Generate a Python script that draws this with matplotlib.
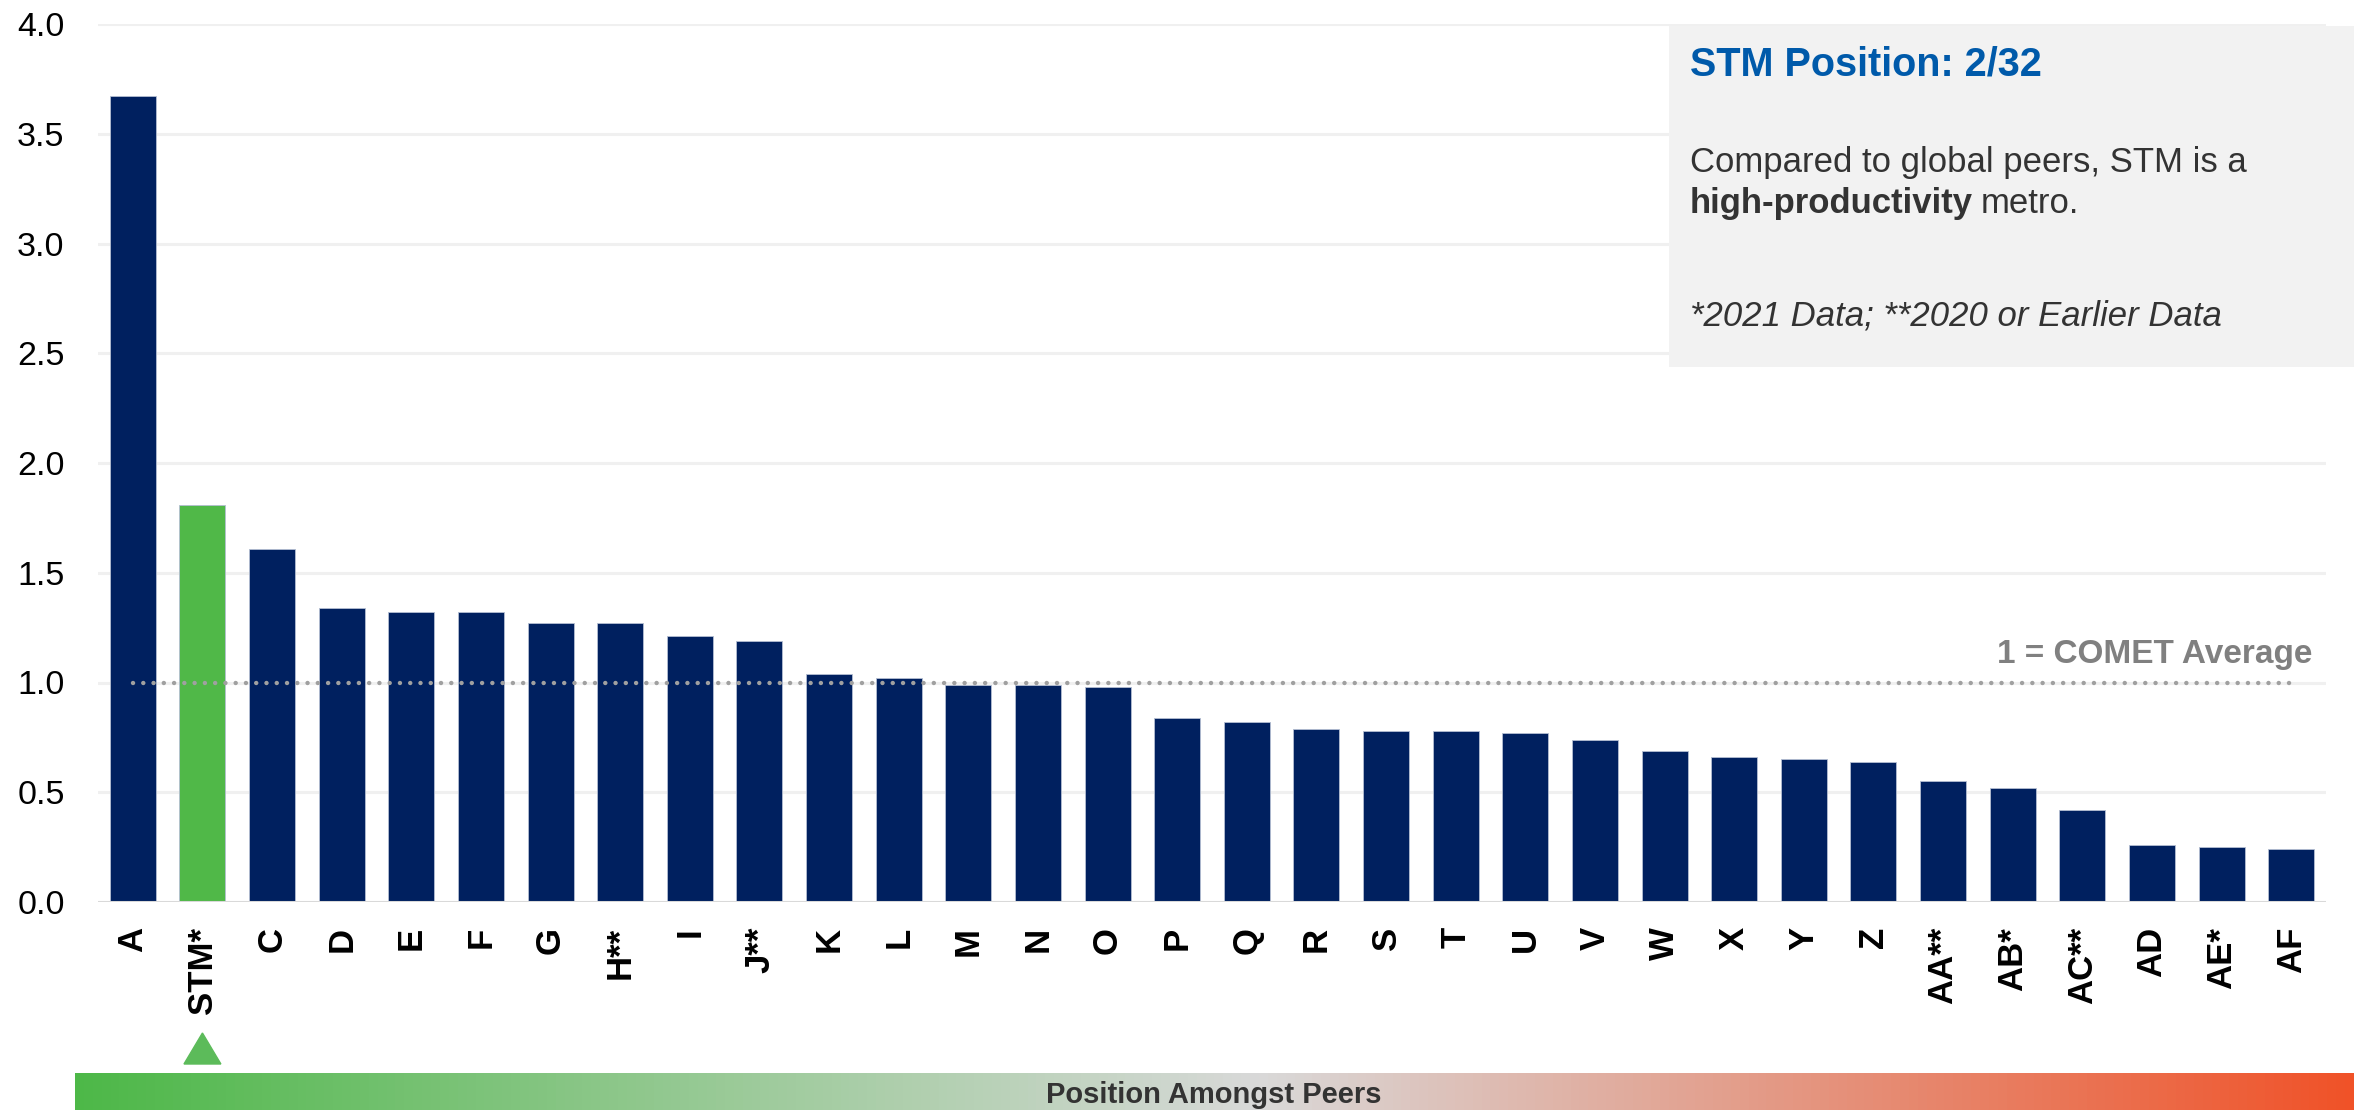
import matplotlib
matplotlib.use("Agg")
import matplotlib.pyplot as plt
import numpy as np
from matplotlib.colors import LinearSegmentedColormap
from matplotlib.patches import Polygon, Rectangle
from matplotlib.transforms import blended_transform_factory

plt.rcParams["font.family"] = ["Liberation Sans", "DejaVu Sans"]

# Productivity index per metro, sorted high to low (1 = COMET average)
metros = ["A", "STM*", "C", "D", "E", "F", "G", "H**", "I", "J**", "K", "L",
          "M", "N", "O", "P", "Q", "R", "S", "T", "U", "V", "W", "X", "Y",
          "Z", "AA**", "AB*", "AC**", "AD", "AE*", "AF"]
index_values = [3.67, 1.81, 1.61, 1.34, 1.32, 1.32, 1.27, 1.27, 1.21, 1.19,
                1.04, 1.02, 0.99, 0.99, 0.98, 0.84, 0.82, 0.79, 0.78, 0.78,
                0.77, 0.74, 0.69, 0.66, 0.65, 0.64, 0.55, 0.52, 0.42, 0.26,
                0.25, 0.24]
highlight = "STM*"
comet_average = 1.0
y_ticks = [0.0, 0.5, 1.0, 1.5, 2.0, 2.5, 3.0, 3.5, 4.0]

NAVY = "#00205F"
GREEN = "#50B848"
W, H = 2366, 1110

fig = plt.figure(figsize=(W / 100, H / 100), dpi=100)
ax = fig.add_axes([98 / W, 208 / H, 2228 / W, 878 / H])

x = np.arange(len(metros))
colors = [GREEN if m == highlight else NAVY for m in metros]
ax.bar(x, index_values, width=0.66, color=colors, edgecolor="#B4BED2",
       linewidth=0.6, zorder=2)

# light horizontal grid, slightly darker baseline
ax.set_ylim(0, 4)
ax.set_xlim(-0.5, len(metros) - 0.5)
ax.set_yticks(y_ticks)
ax.set_yticklabels([f"{t:.1f}" for t in y_ticks])
for t in y_ticks[1:]:
    ax.axhline(t, color="#F0F0F0", linewidth=2.2, zorder=1)
ax.axhline(0, color="#D9D9D9", linewidth=2.2, zorder=3)
for s in ax.spines.values():
    s.set_visible(False)

ax.tick_params(axis="y", length=0, pad=24, labelsize=24.5, labelcolor="black")
ax.set_xticks(x)
ax.set_xticklabels(metros, rotation=90, fontweight="bold", fontsize=25)
ax.tick_params(axis="x", length=0, pad=18, labelcolor="black")

# dotted average line across bar centres
ax.plot([x[0], x[-1]], [comet_average, comet_average], color="#A0A0A0",
        linewidth=3.2, linestyle=(0, (0.01, 2.3)), dash_capstyle="round",
        zorder=4)
ax.text(0.9937, 1.09, "1 = COMET Average",
        transform=blended_transform_factory(ax.transAxes, ax.transData),
        ha="right", va="baseline", fontsize=24, fontweight="bold",
        color="#808080")

# marker under the highlighted metro
pos = metros.index(highlight)
tri_tf = blended_transform_factory(ax.transData, fig.transFigure)
tri = Polygon([(pos - 0.265, 1 - 1064 / H), (pos + 0.265, 1 - 1064 / H),
               (pos, 1 - 1033 / H)], closed=True, color="#5CBB5A",
              transform=tri_tf, clip_on=False)
fig.add_artist(tri)

# gradient position bar at the bottom
grad_ax = fig.add_axes([75 / W, 0, (2354 - 75) / W, 37 / H])
cmap = LinearSegmentedColormap.from_list(
    "peers", [(0.0, "#4DB848"), (0.52, "#D9D9D9"), (1.0, "#F05228")])
grad_ax.imshow(np.linspace(0, 1, 512)[None, :], aspect="auto", cmap=cmap,
               extent=[0, 1, 0, 1])
grad_ax.set_axis_off()
fig.text(1214 / W, 1 - 1103 / H, "Position Amongst Peers", ha="center",
         va="baseline", fontsize=21, fontweight="bold", color="#333333")

# call-out box
box = Rectangle((1669 / W, 1 - 367 / H), 685 / W, 341 / H,
                transform=fig.transFigure, facecolor="#F2F2F2",
                edgecolor="none", zorder=5)
fig.add_artist(box)
tx = 1690 / W
fig.text(tx, 1 - 76 / H, "STM Position: 2/32", ha="left", va="baseline",
         fontsize=28.5, fontweight="bold", color="#005AAA", zorder=6)
fig.text(tx, 1 - 172 / H, "Compared to global peers, STM is a", ha="left",
         va="baseline", fontsize=25, color="#333333", zorder=6)
bold_part = fig.text(tx, 1 - 213 / H, "high-productivity", ha="left",
                     va="baseline", fontsize=25, fontweight="bold",
                     color="#333333", zorder=6)
fig.canvas.draw()
bb = bold_part.get_window_extent()
fig.text(bb.x1 / W + 8 / W, 1 - 213 / H, "metro.", ha="left", va="baseline",
         fontsize=25, color="#333333", zorder=6)
fig.text(tx, 1 - 325 / H, "*2021 Data; **2020 or Earlier Data", ha="left",
         va="baseline", fontsize=25, style="italic", color="#333333", zorder=6)

fig.savefig("out.png", dpi=100)
plt.close(fig)
